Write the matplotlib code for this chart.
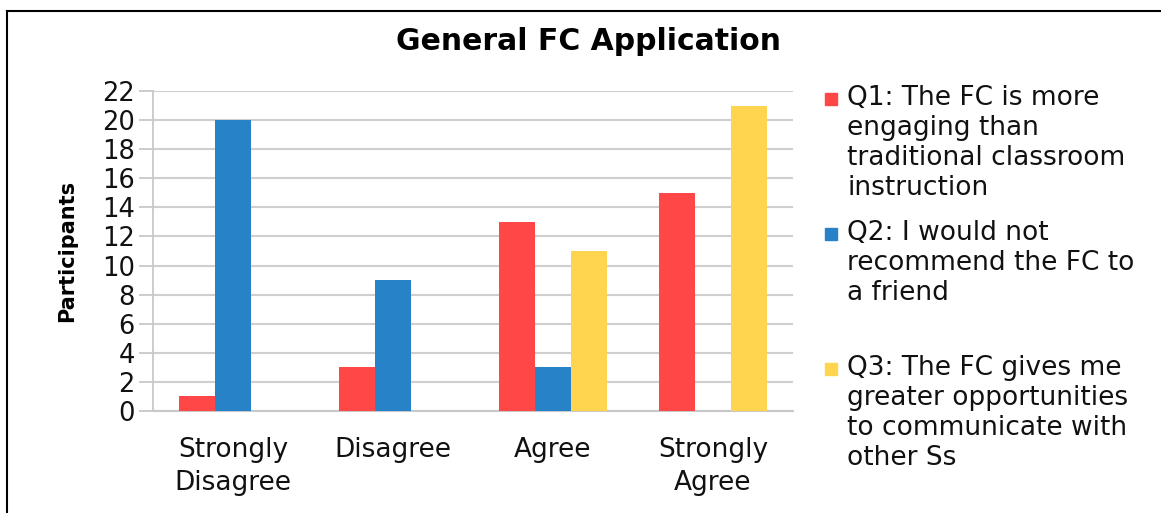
import numpy as np
import matplotlib
matplotlib.use("Agg")
import matplotlib.pyplot as plt
from matplotlib.patches import Rectangle
from matplotlib.lines import Line2D

# Survey responses per question
categories = ["Strongly\nDisagree", "Disagree", "Agree", "Strongly\nAgree"]
q1 = [1, 3, 13, 15]
q2 = [20, 9, 3, 0]
q3 = [0, 0, 11, 21]
labels = ["Q1: The FC is more\nengaging than\ntraditional classroom\ninstruction",
          "Q2: I would not\nrecommend the FC to\na friend",
          "Q3: The FC gives me\ngreater opportunities\nto communicate with\nother Ss"]
colors = ["#FF4747", "#2882C8", "#FFD44F"]
yticks = np.arange(0, 23, 2)

plt.rcParams['font.family'] = ['DejaVu Sans']

W, H = 1161, 513
fig = plt.figure(figsize=(W / 100, H / 100), dpi=100)
ax = fig.add_axes([153 / W, 1 - 411 / H, 640 / W, 320 / H])

x = np.arange(len(categories))
width = 0.223
for i, (vals, c) in enumerate(zip([q1, q2, q3], colors)):
    ax.bar(x + (i - 1) * width, vals, width, color=c, zorder=3)

ax.set_xlim(-0.5, 3.5)
ax.set_ylim(0, 22)
ax.set_yticks(yticks)
ax.set_xticks(x)
ax.set_xticklabels(categories, fontsize=19, linespacing=1.32, color="#111111")
ax.tick_params(axis="x", length=0, pad=19)
ax.tick_params(axis="y", length=10, width=1.3, color="#C8C8C8",
               labelsize=18.5, pad=3, labelcolor="#111111")
ax.yaxis.grid(True, color="#CFCFCF", linewidth=1.5, zorder=0)
for s in ["top", "right"]:
    ax.spines[s].set_visible(False)
ax.spines["left"].set_color("#C8C8C8")
ax.spines["bottom"].set_color("#C8C8C8")
ax.spines["left"].set_linewidth(1.3)
ax.spines["bottom"].set_linewidth(1.5)
ax.set_ylabel("Participants", fontsize=15, fontweight="bold", labelpad=18)

fig.text(588 / W, 1 - 42 / H, "General FC Application", ha="center",
         va="center", fontsize=21.5, fontweight="bold")

# legend drawn by hand so squares line up with the first text line
tops = [99, 234, 369]
for lab, c, ty in zip(labels, colors, tops):
    fig.patches.append(Rectangle((825 / W, 1 - (ty + 6) / H), 12 / W, 12 / H,
                                 transform=fig.transFigure, color=c))
    fig.text(847 / W, 1 - (ty - 14) / H, lab, ha="left", va="top",
             fontsize=19, linespacing=1.2, color="#111111")

# outer frame
fig.lines.append(Line2D([7 / W, 7 / W], [0, 1 - 11 / H], transform=fig.transFigure,
                        color="black", linewidth=1.5))
fig.lines.append(Line2D([7 / W, 1], [1 - 11 / H, 1 - 11 / H], transform=fig.transFigure,
                        color="black", linewidth=1.5))

fig.savefig("out.png", dpi=100)
